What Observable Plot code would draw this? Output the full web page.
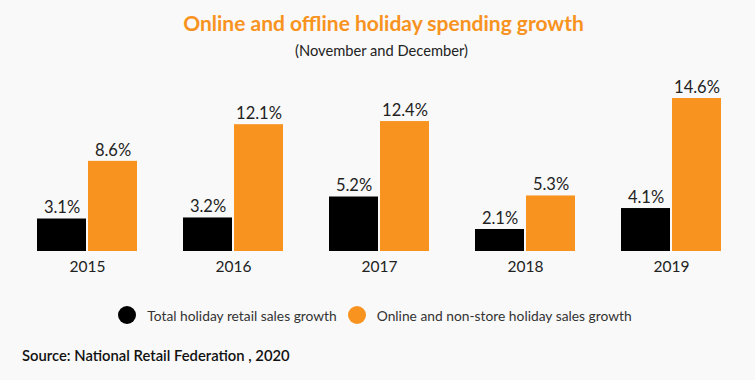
<!DOCTYPE html>
<html>
<head>
<meta charset="utf-8">
<script src="https://cdn.jsdelivr.net/npm/d3@7"></script>
<script src="https://cdn.jsdelivr.net/npm/@observablehq/plot@0.6"></script>
<style>
  html, body { margin: 0; padding: 0; background: #f9f9f9; font-family: Lato, "Open Sans", sans-serif; }
  #wrap { width: 755px; height: 380px; position: relative; overflow: hidden; }
  .title { text-align: center; color: #f7931e; font-weight: bold; font-size: 21px; line-height: 26px; margin-top: 10px; padding-left: 12px; }
  .subtitle { text-align: center; color: #222; font-size: 14.7px; line-height: 20px; margin-top: 4px; padding-left: 8px; }
  #chart { height: 225px; margin-top: 1px; }
  .legend { display: flex; justify-content: center; align-items: center; font-size: 13.8px; color: #333; margin-top: 19px; height: 20px; padding-left: 6px; }
  .legend span.sw { display: inline-block; width: 18px; height: 18px; border-radius: 50%; margin-right: 11px; }
  .legend .item { display: flex; align-items: center; margin-right: 11px; }
  .source { position: absolute; left: 22px; top: 346px; font-size: 14.8px; font-weight: 600; color: #111; }
</style>
</head>
<body>
<div id="wrap">
  <div class="title">Online and offline holiday spending growth</div>
  <div class="subtitle">(November and December)</div>
  <div id="chart"></div>
  <div class="legend" id="legend"></div>
  <div class="source">Source: National Retail Federation , 2020</div>
</div>
<script>
const years = ["2015", "2016", "2017", "2018", "2019"];
const seriesNames = ["Total holiday retail sales growth", "Online and non-store holiday sales growth"];
const totalGrowth = [3.1, 3.2, 5.2, 2.1, 4.1];
const onlineGrowth = [8.6, 12.1, 12.4, 5.3, 14.6];
const colors = ["#000000", "#f7931e"];

const data = [];
years.forEach((y, i) => {
  data.push({year: y, series: seriesNames[0], value: totalGrowth[i]});
  data.push({year: y, series: seriesNames[1], value: onlineGrowth[i]});
});

const chart = Plot.plot({
  width: 755,
  height: 225,
  marginTop: 37,
  marginBottom: 35,
  marginLeft: 36,
  marginRight: 34,
  style: {background: "transparent", fontFamily: "Lato, sans-serif"},
  fx: {domain: years, paddingInner: 0.316, paddingOuter: 0, label: null, axis: "bottom", tickSize: 0, tickPadding: 9},
  x: {domain: seriesNames, paddingInner: 0.04, paddingOuter: 0, axis: null},
  y: {domain: [0, 14.6], axis: null},
  color: {domain: seriesNames, range: colors},
  marks: [
    Plot.barY(data, {fx: "year", x: "series", y: "value", fill: "series"}),
    Plot.text(data, {fx: "year", x: "series", y: "value", text: d => d.value.toFixed(1) + "%", dy: -11, fontSize: 16.5, fill: "#222"})
  ]
});
chart.querySelectorAll("g[aria-label='fx-axis tick label']").forEach(n => { n.setAttribute("font-size", "15.5"); n.style.fill = "#222"; });
document.getElementById("chart").appendChild(chart);

const legend = document.getElementById("legend");
seriesNames.forEach((s, i) => {
  const item = document.createElement("div");
  item.className = "item";
  const sw = document.createElement("span");
  sw.className = "sw";
  sw.style.background = colors[i];
  item.appendChild(sw);
  item.appendChild(document.createTextNode(s));
  legend.appendChild(item);
});
</script>
</body>
</html>
